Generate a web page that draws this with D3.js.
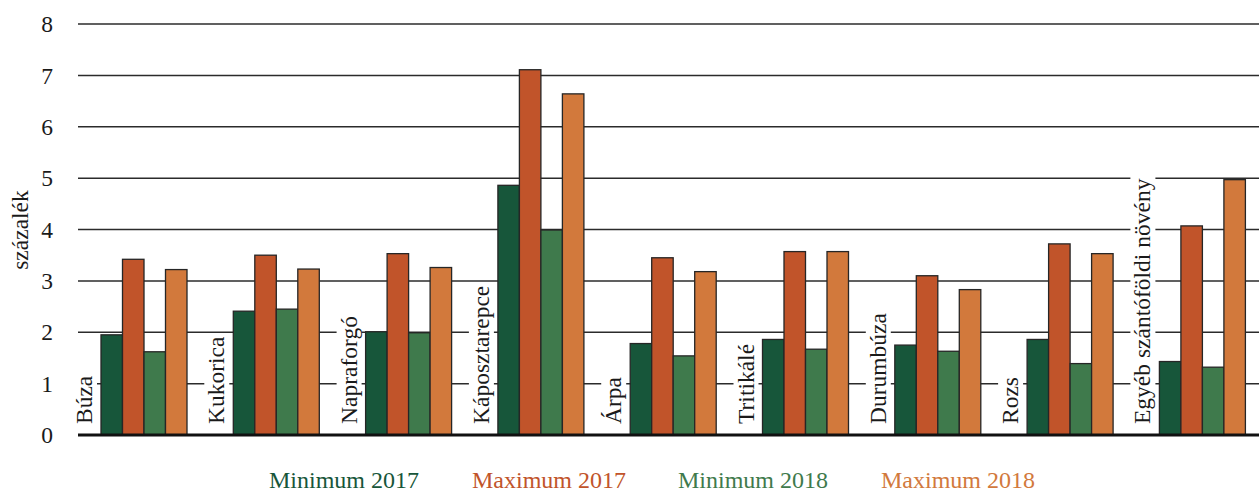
<!DOCTYPE html>
<html><head><meta charset="utf-8">
<script src="https://cdn.jsdelivr.net/npm/d3@7"></script>
<style>body{margin:0;background:#fff}svg{display:block}</style>
</head><body>
<svg id="chart" width="1259" height="494"></svg>
<script>
const categories = ["Búza","Kukorica","Napraforgó","Káposztarepce","Árpa","Tritikálé","Durumbúza","Rozs","Egyéb szántóföldi növény"];
const seriesNames = ["Minimum 2017","Maximum 2017","Minimum 2018","Maximum 2018"];
const min2017 = [1.95,2.41,2.01,4.86,1.78,1.86,1.75,1.86,1.43];
const max2017 = [3.42,3.50,3.53,7.11,3.45,3.57,3.10,3.72,4.07];
const min2018 = [1.62,2.45,1.99,3.99,1.54,1.67,1.63,1.39,1.32];
const max2018 = [3.22,3.23,3.26,6.64,3.18,3.57,2.83,3.53,4.97];
const yTicks = [0,1,2,3,4,5,6,7,8];
const colors = ["#17563a","#c1542a","#3f7a4c","#d2793c"];
const yTitle = "százalék";

const seriesValues = [min2017,max2017,min2018,max2018];
const svg = d3.select("#chart");
const font = "'Liberation Serif','Times New Roman',serif";
const fs = 23.5;

const y = d3.scaleLinear().domain([0,8]).range([435,24]);
const x0 = d3.scaleBand().domain(categories).range([75, 75+9*132.3]).paddingInner(0);
const x1 = d3.scaleBand().domain(seriesNames).range([26,112]).padding(0);

const gridLeft = 78, gridRight = 1259;

// gridlines
svg.append("g").selectAll("line").data(yTicks.filter(d=>d>0)).join("line")
  .attr("x1",gridLeft).attr("x2",gridRight)
  .attr("y1",d=>y(d)).attr("y2",d=>y(d))
  .attr("stroke","#2b2b2b").attr("stroke-width",1.5);

// tick labels
svg.append("g").selectAll("text").data(yTicks).join("text")
  .attr("x",47).attr("y",d=>y(d)).attr("dy","0.35em")
  .attr("text-anchor","middle")
  .style("font-family",font).style("font-size",fs+"px").attr("fill","#1a1a1a")
  .text(d=>d);

// y title
svg.append("text")
  .attr("transform",`translate(28,230) rotate(-90)`)
  .attr("text-anchor","middle")
  .style("font-family",font).style("font-size",fs+"px").attr("fill","#1a1a1a")
  .text(yTitle);

// category labels with white boxes
const labG = svg.append("g");
categories.forEach(c=>{
  const g = labG.append("g").attr("transform",`translate(${x0(c)+17},424) rotate(-90)`);
  const t = g.append("text").attr("x",0).attr("y",0)
    .style("font-family",font).style("font-size",fs+"px").attr("fill","#1a1a1a")
    .text(c);
  const bb = t.node().getBBox();
  g.insert("rect","text").attr("x",bb.x-2).attr("y",bb.y+1).attr("width",bb.width+4).attr("height",bb.height-1).attr("fill","#fff");
});

// bars
const groups = svg.append("g").selectAll("g").data(categories).join("g")
  .attr("transform",c=>`translate(${x0(c)},0)`);
groups.selectAll("rect").data((c,i)=>seriesNames.map((s,j)=>({s,v:seriesValues[j][i],j})))
  .join("rect")
  .attr("x",d=>x1(d.s)).attr("width",x1.bandwidth())
  .attr("y",d=>y(d.v)).attr("height",d=>y(0)-y(d.v))
  .attr("fill",d=>colors[d.j]).attr("stroke","#262626").attr("stroke-width",1.3);

// baseline
svg.append("line").attr("x1",gridLeft).attr("x2",gridRight).attr("y1",y(0)).attr("y2",y(0))
  .attr("stroke","#111").attr("stroke-width",3);

// legend
const legendX = [269,472,678,881];
svg.append("g").selectAll("text").data(seriesNames).join("text")
  .attr("x",(d,i)=>legendX[i]).attr("y",488)
  .style("font-family",font).style("font-size","24px")
  .attr("fill",(d,i)=>colors[i]).text(d=>d);
</script>
</body></html>
